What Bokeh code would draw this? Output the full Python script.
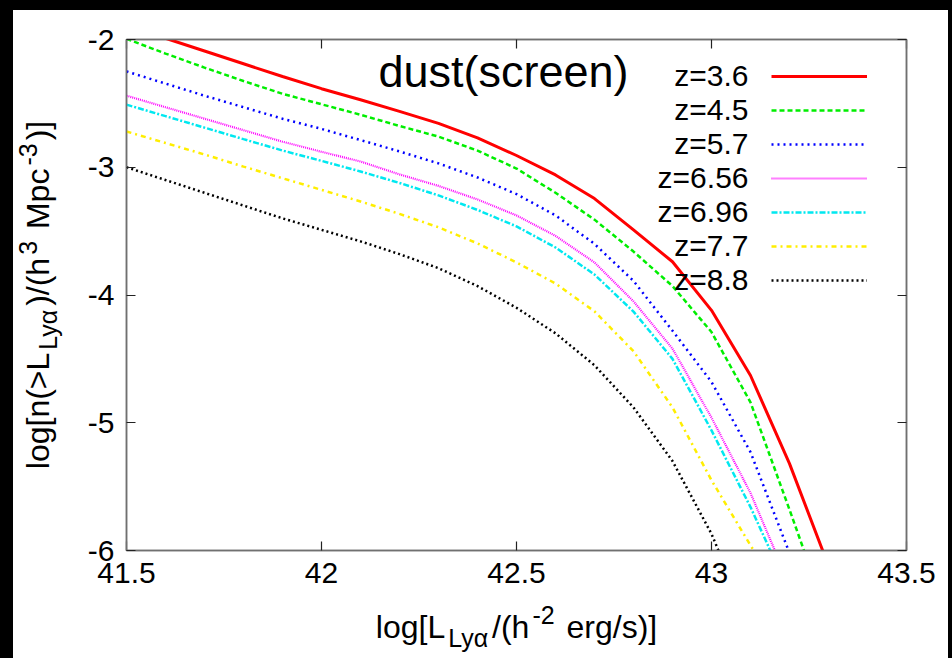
import math
from bokeh.plotting import figure
from bokeh.models import (Range1d, LinearAxis, Label, Legend, LegendItem,
                          FixedTicker, Spacer)
from bokeh.core.properties import value
from bokeh.layouts import row, column
from bokeh.embed import file_html
from bokeh.resources import INLINE

# ---------------- data ----------------
log_lum = [41.5, 41.6, 41.7, 41.8, 41.9, 42.0, 42.1, 42.2, 42.3, 42.4,
           42.5, 42.6, 42.7, 42.8, 42.9, 43.0, 43.1, 43.2, 43.3]

n_z36 = [-1.88, -1.99, -2.09, -2.19, -2.29, -2.385, -2.472, -2.563, -2.657, -2.77,
         -2.908, -3.06, -3.245, -3.49, -3.74, -4.12, -4.63, -5.32, -6.12]
n_z45 = [-1.995, -2.11, -2.22, -2.325, -2.425, -2.507, -2.589, -2.677, -2.76, -2.87,
         -3.01, -3.20, -3.41, -3.66, -3.93, -4.29, -4.84, -5.68, -6.54]
n_z57 = [-2.25, -2.345, -2.44, -2.53, -2.62, -2.70, -2.787, -2.876, -2.97, -3.08,
         -3.21, -3.377, -3.60, -3.89, -4.28, -4.68, -5.23, -6.02, -7.00]
n_z656 = [-2.44, -2.53, -2.62, -2.71, -2.80, -2.879, -2.955, -3.056, -3.146, -3.252,
          -3.377, -3.537, -3.745, -4.05, -4.42, -4.96, -5.55, -6.27, -7.20]
n_z696 = [-2.51, -2.60, -2.69, -2.78, -2.869, -2.95, -3.033, -3.123, -3.22, -3.334,
          -3.463, -3.628, -3.84, -4.13, -4.50, -5.06, -5.66, -6.33, -7.30]
n_z77 = [-2.72, -2.81, -2.90, -2.995, -3.086, -3.177, -3.268, -3.365, -3.47, -3.596,
         -3.745, -3.91, -4.128, -4.44, -4.88, -5.45, -5.96, -6.43, -7.40]
n_z88 = [-3.00, -3.10, -3.20, -3.30, -3.40, -3.49, -3.58, -3.68, -3.79, -3.93,
         -4.10, -4.30, -4.55, -4.88, -5.30, -5.87, -6.60, -7.30, -8.00]

series = [n_z36, n_z45, n_z57, n_z656, n_z696, n_z77, n_z88]
z_labels = ["z=3.6", "z=4.5", "z=5.7", "z=6.56", "z=6.96", "z=7.7", "z=8.8"]

x_ticks = [41.5, 42, 42.5, 43, 43.5]
x_tick_labels = ["41.5", "42", "42.5", "43", "43.5"]
y_ticks = [-6, -5, -4, -3, -2]
y_tick_labels = ["-6", "-5", "-4", "-3", "-2"]

title_text = "dust(screen)"
xlabel_parts = [("log[L", 0), ("Lyα", -1), ("/(h", 0), ("-2", 1), (" erg/s)]", 0)]
ylabel_parts = [("log[n(>L", 0), ("Lyα", -1), (")/(h", 0), ("3", 1),
                (" Mpc", 0), ("-3", 1), (")]", 0)]

# ---------------- styles ----------------
colors = ["#ff0000", "#00ee00", "#0000ff", "#ff00ff", "#00e8f0", "#ffee00", "#000000"]
dashes = ["solid", "5 3", "2 4", "1 1", "6 2 2 2", "5 4 2 4", "2 3"]
widths = [3.0, 2.5, 2.5, 2.2, 2.5, 2.5, 2.5]
FONT = "Liberation Sans"
AX = "#707070"
BASE_FIX = 0.42  # em shift that puts Label text on the intended baseline

# Liberation Sans (Arial metric) advance widths, per 1000 em
ADV = {'l': 222, 'o': 556, 'g': 556, '[': 278, 'L': 556, 'y': 500, 'α': 578,
       '/': 278, '(': 333, 'h': 556, '-': 333, '2': 556, ' ': 278, 'e': 556,
       'r': 333, 's': 500, ')': 333, ']': 278, 'n': 556, '>': 584, '3': 556,
       'M': 833, 'p': 556, 'c': 500}


def text_w(s, size):
    return sum(ADV.get(ch, 556) for ch in s) * size / 1000.0


LW = 60          # width of the y-label strip
PW, PH = 875, 590
XH = 58          # height of the x-label strip
FW, FH = 780, 511

p = figure(width=PW, height=PH, output_backend="svg", toolbar_location=None,
           x_range=Range1d(41.5, 43.5), y_range=Range1d(-6, -2),
           min_border_left=53, min_border_right=PW - 53 - FW, min_border_top=29,
           min_border_bottom=PH - 29 - FH, background_fill_color="white",
           border_fill_color="white")
p.outline_line_color = AX
p.outline_line_width = 1.5
p.xgrid.visible = False
p.ygrid.visible = False


def style_axis(ax, ticks, labels, show_labels):
    ax.ticker = FixedTicker(ticks=ticks)
    ax.major_label_overrides = {t: l for t, l in zip(ticks, labels)}
    ax.major_tick_in = 9
    ax.major_tick_out = 0
    ax.minor_tick_in = 0
    ax.minor_tick_out = 0
    ax.major_tick_line_color = "#222222"
    ax.major_tick_line_width = 1.2
    ax.axis_line_color = AX
    ax.axis_line_width = 1.5
    ax.major_label_text_font = FONT
    ax.major_label_text_font_size = "30px"
    ax.major_label_text_color = "black" if show_labels else None
    ax.major_label_standoff = 12


style_axis(p.xaxis[0], x_ticks, x_tick_labels, True)
style_axis(p.yaxis[0], y_ticks, y_tick_labels, True)
top_ax = LinearAxis()
right_ax = LinearAxis()
style_axis(top_ax, x_ticks, x_tick_labels, False)
style_axis(right_ax, y_ticks, y_tick_labels, False)
p.add_layout(top_ax, "above")
p.add_layout(right_ax, "right")

renderers = []
for ys, c, d, w in zip(series, colors, dashes, widths):
    r = p.line(log_lum, ys, line_color=c, line_dash=d, line_width=w)
    renderers.append(r)

# legend: keys drawn by Bokeh's legend, texts placed to their left
legend = Legend(items=[LegendItem(label=value(""), renderers=[r]) for r in renderers],
                location=(645, 260), glyph_width=96, glyph_height=20,
                label_height=20, label_width=0, label_standoff=0, spacing=14,
                padding=0, margin=0, border_line_alpha=0,
                background_fill_alpha=0, label_text_font_size="1px")
p.add_layout(legend)

for i, zl in enumerate(z_labels):
    p.add_layout(Label(x=622, y=462 - 34 * i + BASE_FIX * 30,
                       x_units="screen", y_units="screen",
                       text=zl, text_align="right", text_baseline="alphabetic",
                       text_font=FONT, text_font_size="30px", text_color="black"))

p.add_layout(Label(x=252, y=460 + BASE_FIX * 45, x_units="screen", y_units="screen",
                   text=title_text, text_align="left", text_baseline="alphabetic",
                   text_font=FONT, text_font_size="45px", text_color="black"))


def strip(w, h):
    f = figure(width=w, height=h, output_backend="svg", toolbar_location=None,
               x_axis_location=None, y_axis_location=None,
               x_range=Range1d(0, w), y_range=Range1d(0, h),
               min_border=0, background_fill_color="white",
               border_fill_color="white")
    f.outline_line_color = None
    f.xgrid.visible = False
    f.ygrid.visible = False
    return f


MAIN, SCRIPT, GAP = 32, 25, 3


def pieces_total(parts):
    return sum(text_w(s, MAIN if k == 0 else SCRIPT) for s, k in parts) + GAP * (len(parts) - 1)


# x axis label (pieces with sub/superscripts), centred under the frame
# (this strip's frame is aligned with the main frame by the column layout)
xlab = strip(PW, XH)
cx = FW / 2.0 - pieces_total(xlabel_parts) / 2.0
for s, k in xlabel_parts:
    size = MAIN if k == 0 else SCRIPT
    lead = len(s) - len(s.lstrip(" "))
    cx += text_w(" " * lead, size)
    txt = s.lstrip(" ")
    base = {0: 18, -1: 10, 1: 33}[k] + BASE_FIX * size
    xlab.add_layout(Label(x=cx, y=base, x_units="screen", y_units="screen",
                          text=txt, text_align="left", text_baseline="alphabetic",
                          text_font=FONT, text_font_size=f"{size}px",
                          text_color="black"))
    cx += text_w(txt, size) + GAP

# y axis label (rotated), centred beside the frame
ylab = strip(LW, PH + XH)
cy = (PH + XH) - (29 + FH / 2.0) - pieces_total(ylabel_parts) / 2.0
for s, k in ylabel_parts:
    size = MAIN if k == 0 else SCRIPT
    lead = len(s) - len(s.lstrip(" "))
    cy += text_w(" " * lead, size)
    txt = s.lstrip(" ")
    bx = {0: 38, -1: 45, 1: 25}[k] - BASE_FIX * size
    ylab.add_layout(Label(x=bx, y=cy, x_units="screen", y_units="screen",
                          text=txt, angle=math.pi / 2, text_align="left",
                          text_baseline="alphabetic", text_font=FONT,
                          text_font_size=f"{size}px", text_color="black"))
    cy += text_w(txt, size) + GAP

black = {"background-color": "black"}
layout = row(Spacer(width=13, height=658, styles=black),
             column(Spacer(width=LW + PW, height=10, styles=black),
                    row(ylab, column(p, xlab))),
             Spacer(width=4, height=658, styles=black))

open("out.html", "w").write(file_html(layout, INLINE))
